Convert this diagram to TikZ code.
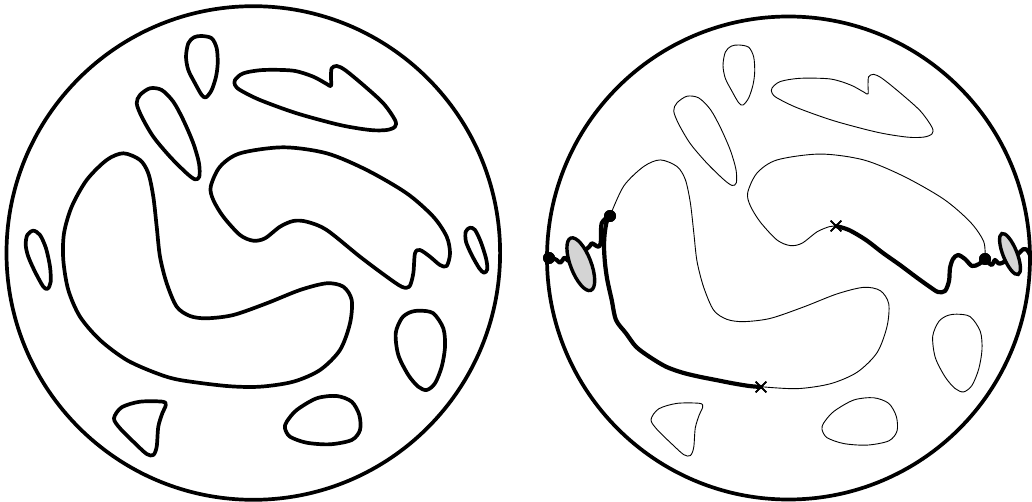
\documentclass[tikz,border=0pt]{standalone}
\usetikzlibrary{shapes.misc}
\tikzset{
  heavy/.style={line width=3.7pt, line join=round},
  thinline/.style={line width=0.9pt, line join=round},
  route/.style={line width=4.2pt, line cap=round, line join=round},
  grayblob/.style={fill=black!17, draw=black, line width=3.4pt},
  dotnode/.style={circle, fill=black, inner sep=0pt, minimum size=12pt},
  xmark/.style={cross out, draw=black, line width=1.6pt, minimum size=9pt, inner sep=0pt},
}
\newcommand\shpEgg[1]{\draw[#1] plot[smooth cycle] coordinates {(201.7,36) (211.7,38.3) (216.7,48.3) (217.7,63.3) (216,76.7) (211.7,90) (206,97.3) (201.7,95) (195,83.3) (188.3,70) (186,56.7) (188.3,43.3) (194,37.3)};}
\newcommand\shpTilt[1]{\draw[#1] plot[smooth cycle] coordinates {(140,95) (150,88.3) (161.7,90) (173.3,101.7) (183.3,120) (193.3,143.3) (199,163.3) (199.3,176.7) (195,179.3) (186.7,173.3) (170,156.7) (153.3,136.7) (141.7,116.7) (136.7,103.3)};}
\newcommand\shpNotch[1]{\draw[#1] plot[smooth cycle] coordinates {(235,80) (243.3,73.3) (263.3,70) (293.3,70.7) (313.3,76.7) (326.7,84) (331,86) (331,76.7) (331.7,68.3) (336.7,66) (345,70) (363.3,85) (383.3,103.3) (395,120) (395,126.7) (386.7,130) (370,130) (340,125) (296.7,113.3) (260,100) (240,90) (235,85)};}
\newcommand\shpEggR[1]{\draw[#1] plot[smooth cycle] coordinates {(420,310.7) (433.3,313.3) (443.3,328.3) (445,346.7) (441.7,366.7) (435,383.3) (426.7,390) (418.3,386.7) (408.3,375) (398.3,355) (395.7,333.3) (401.7,318.3) (410,312.3)};}
\newcommand\shpBot[1]{\draw[#1] plot[smooth cycle] coordinates {(286.7,421.7) (296.7,410) (316.7,398.3) (336.7,396) (351.7,401.7) (359.3,415) (360,430) (351.7,440) (330,444.3) (306.7,442.7) (290,436.7) (285,428.3)};}
\newcommand\shpTri[1]{\draw[#1] plot[smooth cycle] coordinates {(114,418.3) (121.7,407.3) (140,401.7) (162.7,401.7) (165.7,405.3) (162.3,413.3) (158.3,426.7) (156.7,446.7) (153.3,455) (146.7,454) (135,443.3) (120,428.3)};}
\begin{document}
\begin{tikzpicture}[x=1pt, y=-1pt]
\useasboundingbox (0,0) rectangle (1032,502);
% ---------------- left picture ----------------
\node[circle, draw, heavy, minimum size=493.6pt, inner sep=0pt] (ringL) at (253.3,253) {};
\shpEgg{heavy}
\shpTilt{heavy}
\shpNotch{heavy}
\shpEggR{heavy}
\shpBot{heavy}
\shpTri{heavy}
\draw[heavy] plot[smooth cycle] coordinates {(213.3,200) (223.3,216.7) (240,235) (253.3,240.7) (265,238.3) (280,226.7) (293.3,221) (306.7,221.7) (326.7,230) (360,256.7) (386.7,276.7) (401.7,286.7) (409.3,286.7) (413.3,273.3) (415,253.3) (420,250) (430,256.7) (440,265) (446.7,266) (450,253.3) (446.7,236.7) (433.3,216.7) (406.7,193.3) (366.7,170) (326.7,153.3) (283.3,147.3) (240,153.3) (220,166.7) (210.7,186.7)};
\draw[heavy] plot[smooth cycle] coordinates {(123.3,153.3) (140,160) (148.3,173.3) (153.3,196.7) (156.7,226.7) (160,256.7) (166.7,283.3) (176.7,306.7) (190,316) (206.7,318.3) (233.3,315) (266.7,303.3) (300,290) (326.7,283.3) (343.3,286.7) (351.7,300) (350,323.3) (340,350) (320,370) (293.3,381.7) (260,386.7) (226.7,386) (180,380) (156.7,373.3) (126.7,360) (100,340) (80,316.7) (68.3,290) (63.3,260) (64,233.3) (71.7,206.7) (86.7,180) (106.7,160)};
\draw[heavy] plot[smooth cycle] coordinates {(33.3,230.7) (40,235) (46,248.3) (50,266.7) (50.7,281.7) (47.7,288.7) (43.3,286.7) (35,271.7) (28.3,256.7) (25.7,245) (27.3,235)};
\draw[heavy] plot[smooth cycle] coordinates {(470,227.7) (475,230) (480.7,241.7) (486,258.3) (487.3,269.3) (484,272.7) (479.3,268.3) (471.7,255) (466,241.7) (465.7,231.7)};
% ---------------- right picture ----------------
\node[circle, draw, heavy, minimum size=483pt, inner sep=0pt] (ringR) at (788.5,258) {};
\begin{scope}[xshift=537pt, yshift=-9.7pt, yscale=0.98]
\shpEgg{thinline}
\shpTilt{thinline}
\shpNotch{thinline}
\shpEggR{thinline}
\shpBot{thinline}
\shpTri{thinline}
\draw[thinline] plot[smooth] coordinates {(448,254.4) (446.7,236.7) (433.3,216.7) (406.7,193.3) (366.7,170) (326.7,153.3) (283.3,147.3) (240,153.3) (220,166.7) (210.7,186.7) (213.3,200) (223.3,216.7) (240,235) (253.3,240.7) (265,238.3) (280,226.7) (292,221.5) (299,220.7)};
\draw[thinline] plot[smooth] coordinates {(73,210.5) (86.7,180) (106.7,160) (123.3,153.3) (140,160) (148.3,173.3) (153.3,196.7) (156.7,226.7) (160,256.7) (166.7,283.3) (176.7,306.7) (190,316) (206.7,318.3) (233.3,315) (266.7,303.3) (300,290) (326.7,283.3) (343.3,286.7) (351.7,300) (350,323.3) (340,350) (320,370) (293.3,381.7) (260,386.7) (224,384.7)};
\end{scope}
% marks
\node[dotnode] (dL) at (549,258) {};
\node[dotnode] (dT) at (610,216) {};
\node[dotnode] (dR) at (985,259) {};
\node[xmark] (xT) at (836,226) {};
\node[xmark] (xB) at (761,387) {};
% thick routes
\draw[route] plot[smooth] coordinates {(xT.center) (849,230) (866,240) (883,253) (900,265) (916,277) (930,287) (938,292) (945,291) (949,281) (950,268) (953,259) (958,255) (965,259) (972,266) (979,264) (dR.center) (988,262) (991.7,265) (995,260) (998.3,263.3) (1002,263) (1010,258) (1018,254) (1023,249.3) (1027.3,250) (1030,255) (1034,258)};
\draw[route] plot[smooth] coordinates {(dL.center) (553.3,258.3) (556.7,260) (560,262.7) (562.7,260) (564.3,257.7) (566.7,259.3) (570,261) (580,254) (589.3,246.7) (591.7,243.3) (595,245) (598.3,246.7) (600.7,243.3) (601,230) (601.7,223.3) (605,219) (dT.center)};
\draw[route] plot[smooth] coordinates {(dT.center) (606.7,221.7) (604.7,233.3) (604,246.7) (605,263.3) (607.3,280) (611.7,300) (616,320) (626,333.3) (636,346.7) (649.3,356.7) (666,366.7) (682.7,372.7) (699.3,376.7) (716,380) (732.7,383.3) (749.3,386) (xB.center)};
% gray ovals
\draw[grayblob, rotate around={21:(580.8,264.2)}] (580.8,264.2) ellipse [x radius=10.3pt, y radius=28pt];
\draw[grayblob, rotate around={21.8:(1010,254)}] (1010,254) ellipse [x radius=7pt, y radius=22pt];
% marks drawn again on top
\node[dotnode] at (dL) {};
\node[dotnode] at (dT) {};
\node[dotnode] at (dR) {};
\node[xmark] at (xT) {};
\node[xmark] at (xB) {};
\end{tikzpicture}
\end{document}
